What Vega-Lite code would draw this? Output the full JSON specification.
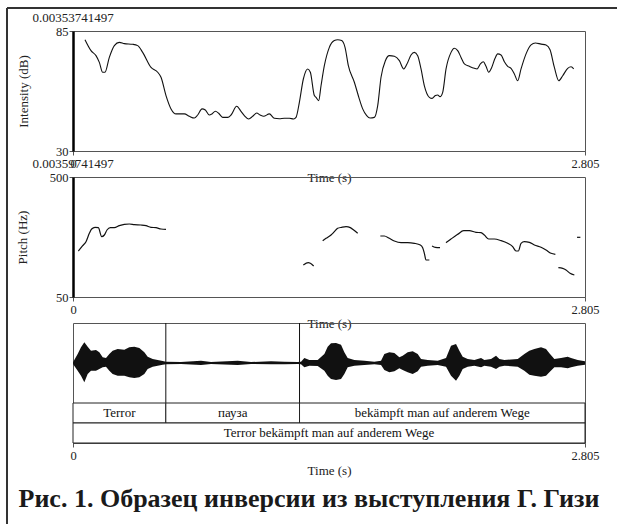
{
  "$schema": "https://vega.github.io/schema/vega-lite/v6.json",
  "padding": {"left": 5, "top": 6, "right": 0, "bottom": 0},
  "background": "white",
  "config": {
    "font": "Liberation Serif, DejaVu Serif, serif",
    "view": {"stroke": "#555", "strokeWidth": 1},
    "axis": {
      "labelFont": "Liberation Serif, DejaVu Serif, serif", "titleFont": "Liberation Serif, DejaVu Serif, serif",
      "labelFontSize": 12.5, "titleFontSize": 13, "titleFontWeight": "normal",
      "labelColor": "#222", "titleColor": "#222", "tickColor": "#555", "domainColor": "#555",
      "grid": false, "tickSize": 4, "labelFlush": false, "labelOverlap": false
    },
    "text": {"font": "Liberation Serif, DejaVu Serif, serif"},
    "title": {"font": "Liberation Serif, DejaVu Serif, serif"}
  },
  "bounds": "flush",
  "spacing": 26,
  "datasets": {
    "intensity": [
      {"t":0.0657,"db":81.0},{"t":0.0986,"db":76.0},{"t":0.126,"db":73.7},{"t":0.1443,"db":70.6},{"t":0.1626,"db":66.1},{"t":0.1753,"db":66.1},{"t":0.199,"db":72.9},{"t":0.2265,"db":78.3},{"t":0.2539,"db":79.8},{"t":0.2813,"db":79.2},{"t":0.3269,"db":78.9},{"t":0.3543,"db":78.3},{"t":0.3817,"db":75.2},{"t":0.4274,"db":68.3},{"t":0.4639,"db":66.1},{"t":0.4822,"db":63.8},{"t":0.5095,"db":55.4},{"t":0.537,"db":49.3},{"t":0.5643,"db":47.0},{"t":0.61,"db":47.0},{"t":0.6374,"db":45.9},{"t":0.6648,"db":45.1},{"t":0.6831,"db":46.5},{"t":0.7068,"db":49.3},{"t":0.725,"db":48.8},{"t":0.747,"db":46.5},{"t":0.7616,"db":47.0},{"t":0.7798,"db":48.2},{"t":0.7981,"db":47.3},{"t":0.82,"db":45.4},{"t":0.8474,"db":45.4},{"t":0.8657,"db":46.5},{"t":0.8967,"db":50.5},{"t":0.9205,"db":48.2},{"t":0.9387,"db":46.2},{"t":0.9625,"db":44.7},{"t":0.9844,"db":45.9},{"t":1.0063,"db":47.4},{"t":1.0246,"db":46.5},{"t":1.0447,"db":45.9},{"t":1.0757,"db":47.0},{"t":1.1031,"db":45.0},{"t":1.1305,"db":44.8},{"t":1.1579,"db":45.0},{"t":1.1853,"db":45.0},{"t":1.209,"db":44.7},{"t":1.2218,"db":45.4},{"t":1.2401,"db":52.3},{"t":1.262,"db":63.0},{"t":1.2858,"db":67.6},{"t":1.3003,"db":66.1},{"t":1.3223,"db":55.4},{"t":1.3314,"db":54.6},{"t":1.346,"db":53.1},{"t":1.3588,"db":59.9},{"t":1.377,"db":69.1},{"t":1.4044,"db":77.5},{"t":1.4318,"db":80.6},{"t":1.4501,"db":81.0},{"t":1.472,"db":80.6},{"t":1.4903,"db":77.5},{"t":1.5085,"db":69.1},{"t":1.5414,"db":61.5},{"t":1.5688,"db":53.8},{"t":1.5871,"db":49.3},{"t":1.609,"db":46.2},{"t":1.6272,"db":45.1},{"t":1.651,"db":45.4},{"t":1.6693,"db":50.8},{"t":1.6875,"db":63.8},{"t":1.7113,"db":71.4},{"t":1.7332,"db":73.7},{"t":1.7606,"db":73.4},{"t":1.788,"db":71.4},{"t":1.8117,"db":67.6},{"t":1.8336,"db":70.6},{"t":1.8519,"db":74.0},{"t":1.8702,"db":75.2},{"t":1.8884,"db":73.7},{"t":1.9067,"db":67.6},{"t":1.925,"db":59.9},{"t":1.9524,"db":54.6},{"t":1.967,"db":54.1},{"t":1.9852,"db":55.4},{"t":1.998,"db":55.7},{"t":2.0108,"db":54.9},{"t":2.0254,"db":56.9},{"t":2.0437,"db":67.6},{"t":2.0711,"db":75.2},{"t":2.0893,"db":77.1},{"t":2.1076,"db":76.0},{"t":2.1259,"db":72.9},{"t":2.1441,"db":69.9},{"t":2.1715,"db":68.8},{"t":2.1989,"db":67.9},{"t":2.2135,"db":67.6},{"t":2.2318,"db":69.9},{"t":2.2482,"db":70.9},{"t":2.2628,"db":68.8},{"t":2.2774,"db":66.1},{"t":2.2939,"db":68.3},{"t":2.3121,"db":72.5},{"t":2.3267,"db":74.5},{"t":2.345,"db":74.0},{"t":2.3633,"db":70.9},{"t":2.3815,"db":68.8},{"t":2.3998,"db":67.9},{"t":2.4181,"db":65.3},{"t":2.4363,"db":62.2},{"t":2.4546,"db":67.6},{"t":2.482,"db":74.5},{"t":2.5094,"db":78.6},{"t":2.5331,"db":79.5},{"t":2.5642,"db":79.0},{"t":2.5916,"db":78.6},{"t":2.6135,"db":76.4},{"t":2.6372,"db":68.3},{"t":2.661,"db":62.2},{"t":2.6829,"db":64.5},{"t":2.7103,"db":67.9},{"t":2.7285,"db":68.6},{"t":2.7431,"db":67.6}
    ],
    "pitch": [
      {"seg":1,"t":0.0292,"hz":222.5},{"seg":1,"t":0.053,"hz":242.5},{"seg":1,"t":0.0712,"hz":257.5},{"seg":1,"t":0.0895,"hz":288.8},{"seg":1,"t":0.1023,"hz":305},{"seg":1,"t":0.1205,"hz":311.3},{"seg":1,"t":0.1388,"hz":310},{"seg":1,"t":0.1571,"hz":276.3},{"seg":1,"t":0.1717,"hz":282.5},{"seg":1,"t":0.1863,"hz":301.3},{"seg":1,"t":0.2045,"hz":310},{"seg":1,"t":0.2264,"hz":310},{"seg":1,"t":0.2538,"hz":317.5},{"seg":1,"t":0.2812,"hz":322.5},{"seg":1,"t":0.3086,"hz":323.8},{"seg":1,"t":0.336,"hz":321.3},{"seg":1,"t":0.3726,"hz":320},{"seg":1,"t":0.3999,"hz":317.5},{"seg":1,"t":0.4273,"hz":311.3},{"seg":1,"t":0.4547,"hz":310},{"seg":1,"t":0.4821,"hz":305},{"seg":1,"t":0.5095,"hz":303.8},
      {"seg":2,"t":1.2619,"hz":170},{"seg":2,"t":1.2893,"hz":178.8},{"seg":2,"t":1.3003,"hz":176.3},{"seg":2,"t":1.3185,"hz":166.3},
      {"seg":3,"t":1.3679,"hz":261.3},{"seg":3,"t":1.3862,"hz":270},{"seg":3,"t":1.4136,"hz":282.5},{"seg":3,"t":1.4318,"hz":295},{"seg":3,"t":1.45,"hz":307.5},{"seg":3,"t":1.4719,"hz":311.3},{"seg":3,"t":1.4957,"hz":313.8},{"seg":3,"t":1.5194,"hz":310},{"seg":3,"t":1.5377,"hz":301.3},{"seg":3,"t":1.5596,"hz":288.8},
      {"seg":4,"t":1.6838,"hz":278.8},{"seg":4,"t":1.7057,"hz":278.8},{"seg":4,"t":1.7331,"hz":270},{"seg":4,"t":1.7605,"hz":260},{"seg":4,"t":1.797,"hz":253.8},{"seg":4,"t":1.8336,"hz":253.8},{"seg":4,"t":1.8701,"hz":251.3},{"seg":4,"t":1.903,"hz":245},{"seg":4,"t":1.9157,"hz":235},{"seg":4,"t":1.9249,"hz":213.8},{"seg":4,"t":1.934,"hz":188.8},{"seg":4,"t":1.9523,"hz":188.8},
      {"seg":5,"t":1.9669,"hz":241.3},{"seg":5,"t":1.9851,"hz":236.3},{"seg":5,"t":2.0107,"hz":235},
      {"seg":6,"t":2.0436,"hz":253.8},{"seg":6,"t":2.071,"hz":267.5},{"seg":6,"t":2.1075,"hz":285},{"seg":6,"t":2.1404,"hz":298.8},{"seg":6,"t":2.1714,"hz":298.8},{"seg":6,"t":2.208,"hz":292.5},{"seg":6,"t":2.2353,"hz":291.3},{"seg":6,"t":2.2536,"hz":282.5},{"seg":6,"t":2.2774,"hz":267.5},{"seg":6,"t":2.3084,"hz":267.5},{"seg":6,"t":2.3449,"hz":261.3},{"seg":6,"t":2.3815,"hz":251.3},{"seg":6,"t":2.4088,"hz":238.8},{"seg":6,"t":2.4271,"hz":222.5},{"seg":6,"t":2.4399,"hz":222.5},{"seg":6,"t":2.4545,"hz":251.3},{"seg":6,"t":2.4728,"hz":257.5},{"seg":6,"t":2.5002,"hz":255},{"seg":6,"t":2.5276,"hz":245},{"seg":6,"t":2.5641,"hz":236.3},{"seg":6,"t":2.5915,"hz":226.3},{"seg":6,"t":2.6189,"hz":213.8},{"seg":6,"t":2.6426,"hz":210},
      {"seg":7,"t":2.6591,"hz":160},{"seg":7,"t":2.6828,"hz":157.5},{"seg":7,"t":2.7011,"hz":151.3},{"seg":7,"t":2.723,"hz":138.8},{"seg":7,"t":2.7467,"hz":132.5},
      {"seg":8,"t":2.7614,"hz":273.8},{"seg":8,"t":2.7796,"hz":273.8}
    ],
    "wave": [
      {"t":0.0,"hi":0.017,"lo":-0.025},{"t":0.0256,"hi":0.225,"lo":-0.192},{"t":0.0438,"hi":0.392,"lo":-0.317},{"t":0.0621,"hi":0.517,"lo":-0.483},{"t":0.0804,"hi":0.408,"lo":-0.275},{"t":0.0986,"hi":0.308,"lo":-0.192},{"t":0.126,"hi":0.325,"lo":-0.192},{"t":0.1443,"hi":0.267,"lo":-0.15},{"t":0.1625,"hi":0.142,"lo":-0.108},{"t":0.1808,"hi":0.125,"lo":-0.092},{"t":0.1991,"hi":0.225,"lo":-0.192},{"t":0.2173,"hi":0.308,"lo":-0.275},{"t":0.2447,"hi":0.35,"lo":-0.317},{"t":0.2812,"hi":0.333,"lo":-0.317},{"t":0.3086,"hi":0.392,"lo":-0.358},{"t":0.336,"hi":0.408,"lo":-0.375},{"t":0.3634,"hi":0.375,"lo":-0.358},{"t":0.3908,"hi":0.267,"lo":-0.275},{"t":0.4091,"hi":0.158,"lo":-0.15},{"t":0.4365,"hi":0.1,"lo":-0.092},{"t":0.4639,"hi":0.075,"lo":-0.067},{"t":0.4913,"hi":0.05,"lo":-0.042},{"t":0.5095,"hi":0.033,"lo":-0.033},{"t":0.5917,"hi":0.025,"lo":-0.025},{"t":0.7013,"hi":0.058,"lo":-0.05},{"t":0.756,"hi":0.025,"lo":-0.025},{"t":0.9022,"hi":0.058,"lo":-0.05},{"t":0.9752,"hi":0.025,"lo":-0.025},{"t":1.0848,"hi":0.042,"lo":-0.033},{"t":1.1578,"hi":0.033,"lo":-0.03},{"t":1.2309,"hi":0.025,"lo":-0.025},{"t":1.2492,"hi":0.033,"lo":-0.033},{"t":1.2675,"hi":0.125,"lo":-0.108},{"t":1.2949,"hi":0.075,"lo":-0.067},{"t":1.3405,"hi":0.075,"lo":-0.075},{"t":1.3771,"hi":0.225,"lo":-0.192},{"t":1.3953,"hi":0.408,"lo":-0.317},{"t":1.4136,"hi":0.492,"lo":-0.4},{"t":1.441,"hi":0.5,"lo":-0.425},{"t":1.4684,"hi":0.458,"lo":-0.4},{"t":1.4866,"hi":0.267,"lo":-0.275},{"t":1.5049,"hi":0.125,"lo":-0.108},{"t":1.5414,"hi":0.075,"lo":-0.067},{"t":1.5962,"hi":0.058,"lo":-0.05},{"t":1.651,"hi":0.033,"lo":-0.033},{"t":1.6875,"hi":0.058,"lo":-0.05},{"t":1.7058,"hi":0.225,"lo":-0.175},{"t":1.7332,"hi":0.267,"lo":-0.233},{"t":1.7606,"hi":0.25,"lo":-0.208},{"t":1.788,"hi":0.142,"lo":-0.133},{"t":1.8062,"hi":0.183,"lo":-0.175},{"t":1.8336,"hi":0.267,"lo":-0.233},{"t":1.861,"hi":0.292,"lo":-0.275},{"t":1.8884,"hi":0.225,"lo":-0.208},{"t":1.9067,"hi":0.1,"lo":-0.092},{"t":1.9432,"hi":0.075,"lo":-0.067},{"t":1.998,"hi":0.058,"lo":-0.05},{"t":2.0436,"hi":0.125,"lo":-0.092},{"t":2.071,"hi":0.433,"lo":-0.317},{"t":2.0984,"hi":0.475,"lo":-0.442},{"t":2.1167,"hi":0.308,"lo":-0.317},{"t":2.1349,"hi":0.158,"lo":-0.15},{"t":2.1623,"hi":0.1,"lo":-0.092},{"t":2.1989,"hi":0.075,"lo":-0.067},{"t":2.2355,"hi":0.125,"lo":-0.108},{"t":2.2537,"hi":0.075,"lo":-0.067},{"t":2.2902,"hi":0.1,"lo":-0.092},{"t":2.3176,"hi":0.183,"lo":-0.15},{"t":2.3359,"hi":0.1,"lo":-0.092},{"t":2.3633,"hi":0.075,"lo":-0.067},{"t":2.4364,"hi":0.1,"lo":-0.092},{"t":2.4728,"hi":0.225,"lo":-0.192},{"t":2.5002,"hi":0.308,"lo":-0.292},{"t":2.5276,"hi":0.35,"lo":-0.317},{"t":2.5641,"hi":0.392,"lo":-0.342},{"t":2.5915,"hi":0.35,"lo":-0.317},{"t":2.6098,"hi":0.242,"lo":-0.233},{"t":2.6372,"hi":0.1,"lo":-0.108},{"t":2.6737,"hi":0.125,"lo":-0.108},{"t":2.7102,"hi":0.158,"lo":-0.133},{"t":2.7285,"hi":0.125,"lo":-0.108},{"t":2.765,"hi":0.075,"lo":-0.067},{"t":2.805,"hi":0.042,"lo":-0.042}
    ],
    "boundaries": [{"t":0.5085},{"t":1.241}],
    "intervals": [
      {"tier":"1","start":0,"end":0.5085,"mid":0.254,"label":"Terror"},
      {"tier":"1","start":0.5085,"end":1.241,"mid":0.875,"label":"пауза"},
      {"tier":"1","start":1.241,"end":2.805,"mid":2.023,"label":"bekämpft man auf anderem Wege"},
      {"tier":"2","start":0,"end":2.805,"mid":1.4025,"label":"Terror bekämpft man auf anderem Wege"}
    ]
  },
  "vconcat": [
    {
      "width": 512, "height": 120,
      "layer": [
        {
          "data": {"name": "intensity"},
          "mark": {"type": "line", "color": "#111", "strokeWidth": 1.1, "interpolate": "monotone"},
          "encoding": {
            "x": {"field": "t", "type": "quantitative", "scale": {"domain": [0, 2.805], "nice": false, "zero": false},
                  "axis": {"values": [0, 2.805], "format": ".4~g", "title": "Time (s)", "labelPadding": 2, "titlePadding": 2}},
            "y": {"field": "db", "type": "quantitative", "scale": {"domain": [30, 85], "nice": false, "zero": false},
                  "axis": {"values": [30, 85], "format": "d", "title": "Intensity (dB)", "domainColor": "#000", "domainWidth": 2.5, "labelPadding": 1, "titlePadding": 25}}
          }
        },
        {
          "data": {"values": [{}]},
          "mark": {"type": "text", "dy": -13, "fontSize": 13, "color": "#222"},
          "encoding": {"x": {"datum": 0}, "y": {"datum": 85}, "text": {"value": "0.00353741497"}}
        },
        {
          "data": {"values": [{}]},
          "mark": {"type": "rule", "color": "#333", "strokeWidth": 2},
          "encoding": {"x": {"datum": -0.3616}, "y": {"datum": 95.54}, "y2": {"datum": -141.4}}
        },
        {
          "data": {"values": [{}]},
          "mark": {"type": "rule", "color": "#333", "strokeWidth": 2},
          "encoding": {"x": {"datum": -0.3616}, "x2": {"datum": 2.9858}, "y": {"datum": 95.54}}
        }
      ]
    },
    {
      "width": 512, "height": 120,
      "layer": [
        {
          "data": {"name": "pitch"},
          "mark": {"type": "line", "color": "#111", "strokeWidth": 1.2, "interpolate": "monotone"},
          "encoding": {
            "x": {"field": "t", "type": "quantitative", "scale": {"domain": [0, 2.805], "nice": false, "zero": false},
                  "axis": {"values": [0, 2.805], "format": ".4~g", "title": "Time (s)", "labelPadding": 2, "titlePadding": 2}},
            "y": {"field": "hz", "type": "quantitative", "scale": {"domain": [50, 500], "nice": false, "zero": false},
                  "axis": {"values": [50, 500], "format": "d", "title": "Pitch (Hz)", "domainColor": "#000", "domainWidth": 2.5, "labelPadding": 1, "titlePadding": 20}},
            "detail": {"field": "seg", "type": "nominal"}
          }
        },
        {
          "data": {"values": [{}]},
          "mark": {"type": "text", "dy": -13, "fontSize": 13, "color": "#222"},
          "encoding": {"x": {"datum": 0}, "y": {"datum": 500}, "text": {"value": "0.00359741497"}}
        }
      ]
    },
    {
      "bounds": "flush",
      "spacing": 0,
      "vconcat": [
        {
          "width": 512, "height": 80,
          "layer": [
            {
              "data": {"name": "wave"},
              "mark": {"type": "area", "color": "#111", "interpolate": "linear"},
              "encoding": {
                "x": {"field": "t", "type": "quantitative", "scale": {"domain": [0, 2.805], "nice": false, "zero": false}, "axis": null},
                "y": {"field": "hi", "type": "quantitative", "scale": {"domain": [-1, 1], "nice": false, "zero": false}, "axis": null},
                "y2": {"field": "lo"}
              }
            },
            {
              "data": {"name": "boundaries"},
              "mark": {"type": "rule", "color": "#111", "strokeWidth": 1},
              "encoding": {"x": {"field": "t", "type": "quantitative"}}
            }
          ]
        },
        {
          "width": 512, "height": 40,
          "data": {"name": "intervals"},
          "title": {"text": "Рис. 1. Образец инверсии из выступления Г. Гизи", "orient": "bottom", "anchor": "middle", "fontSize": 26, "font": "Liberation Serif, DejaVu Serif, serif", "fontWeight": "bold", "color": "#1a1a1a", "offset": 8, "dx": -20},
          "layer": [
            {
              "mark": {"type": "rect", "fill": "white", "stroke": "#222", "strokeWidth": 1},
              "encoding": {
                "x": {"field": "start", "type": "quantitative", "scale": {"domain": [0, 2.805], "nice": false, "zero": false},
                      "axis": {"values": [0, 2.805], "format": ".4~g", "title": "Time (s)", "labelPadding": 2, "titlePadding": 3}},
                "x2": {"field": "end"},
                "y": {"field": "tier", "type": "ordinal", "scale": {"domain": ["1", "2"], "paddingInner": 0, "paddingOuter": 0}, "axis": null}
              }
            },
            {
              "mark": {"type": "text", "fontSize": 13, "color": "#111", "baseline": "middle"},
              "encoding": {
                "x": {"field": "mid", "type": "quantitative"},
                "y": {"field": "tier", "type": "ordinal"},
                "text": {"field": "label"}
              }
            }
          ]
        }
      ]
    }
  ]
}
